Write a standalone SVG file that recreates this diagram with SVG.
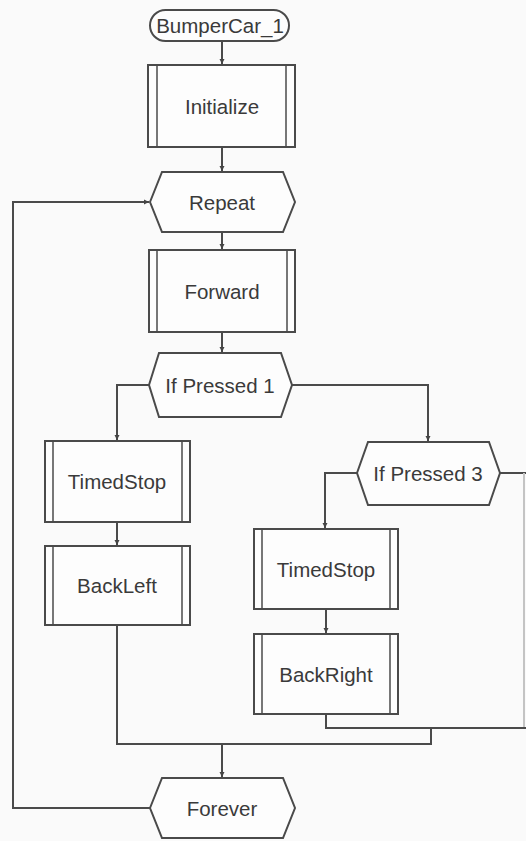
<svg xmlns="http://www.w3.org/2000/svg" width="526" height="841" viewBox="0 0 526 841">
  <defs>
    <marker id="arr" markerWidth="6" markerHeight="6" refX="5" refY="3" orient="auto" markerUnits="userSpaceOnUse">
      <path d="M0,0.5 L5,3 L0,5.5 Z" fill="#444"/>
    </marker>
    <style>
      .shape { fill: #fdfdfd; stroke: #4a4a4a; stroke-width: 2; }
      .inner { stroke: #4a4a4a; stroke-width: 1.5; }
      .wire { fill: none; stroke: #4a4a4a; stroke-width: 2; }
      .faint { fill: none; stroke: #c4c4c4; stroke-width: 2; }
      .lbl { font-family: "Liberation Sans", Arial, sans-serif; font-size: 20.5px; fill: #3a3a3a; text-anchor: middle; }
    </style>
  </defs>
  <rect width="526" height="841" fill="#fafafa"/>

  <g id="connectors">
    <path class="wire" d="M222,42 V64" marker-end="url(#arr)"/>
    <path class="wire" d="M222,147 V171" marker-end="url(#arr)"/>
    <path class="wire" d="M222,232 V249" marker-end="url(#arr)"/>
    <path class="wire" d="M222,332 V352" marker-end="url(#arr)"/>
    <path class="wire" d="M149,385 H117 V440" marker-end="url(#arr)"/>
    <path class="wire" d="M292,385 H428 V441" marker-end="url(#arr)"/>
    <path class="wire" d="M117,521 V545" marker-end="url(#arr)"/>
    <path class="wire" d="M357,473 H325 V528" marker-end="url(#arr)"/>
    <path class="wire" d="M326,609 V633" marker-end="url(#arr)"/>
    <path class="wire" d="M500,473 H526"/>
    <path class="faint" d="M524,473 V728"/>
    <path class="wire" d="M326,714 V728 H526"/>
    <path class="wire" d="M431,728 V744 H117 V625"/>
    <path class="wire" d="M222,744 V777" marker-end="url(#arr)"/>
    <path class="wire" d="M150,808 H13 V202 H149" marker-end="url(#arr)"/>
  </g>

  <g id="start">
    <rect class="shape" x="150" y="10" width="139" height="31" rx="15.5"/>
    <text class="lbl" x="220" y="33">BumperCar_1</text>
  </g>

  <g id="initialize">
    <rect class="shape" x="148" y="65" width="147" height="82"/>
    <line class="inner" x1="157" y1="65" x2="157" y2="147"/>
    <line class="inner" x1="286" y1="65" x2="286" y2="147"/>
    <text class="lbl" x="222" y="114">Initialize</text>
  </g>

  <g id="repeat">
    <polygon class="shape" points="150,202 162,172 283,172 295,202 283,232 162,232"/>
    <text class="lbl" x="222" y="210">Repeat</text>
  </g>

  <g id="forward">
    <rect class="shape" x="149" y="250" width="146" height="82"/>
    <line class="inner" x1="157" y1="250" x2="157" y2="332"/>
    <line class="inner" x1="287" y1="250" x2="287" y2="332"/>
    <text class="lbl" x="222" y="299">Forward</text>
  </g>

  <g id="if-pressed-1">
    <polygon class="shape" points="149,385 159,353 281,353 292,385 281,417 159,417"/>
    <text class="lbl" x="220" y="393">If Pressed 1</text>
  </g>

  <g id="timedstop-left">
    <rect class="shape" x="45" y="441" width="145" height="81"/>
    <line class="inner" x1="53" y1="441" x2="53" y2="522"/>
    <line class="inner" x1="182" y1="441" x2="182" y2="522"/>
    <text class="lbl" x="117" y="489">TimedStop</text>
  </g>

  <g id="backleft">
    <rect class="shape" x="45" y="546" width="145" height="79"/>
    <line class="inner" x1="53" y1="546" x2="53" y2="625"/>
    <line class="inner" x1="182" y1="546" x2="182" y2="625"/>
    <text class="lbl" x="117" y="593">BackLeft</text>
  </g>

  <g id="if-pressed-3">
    <polygon class="shape" points="357,473 368,442 489,442 500,473 489,505 368,505"/>
    <text class="lbl" x="428" y="481">If Pressed 3</text>
  </g>

  <g id="timedstop-right">
    <rect class="shape" x="254" y="529" width="144" height="80"/>
    <line class="inner" x1="262" y1="529" x2="262" y2="609"/>
    <line class="inner" x1="390" y1="529" x2="390" y2="609"/>
    <text class="lbl" x="326" y="577">TimedStop</text>
  </g>

  <g id="backright">
    <rect class="shape" x="254" y="634" width="144" height="80"/>
    <line class="inner" x1="262" y1="634" x2="262" y2="714"/>
    <line class="inner" x1="390" y1="634" x2="390" y2="714"/>
    <text class="lbl" x="326" y="682">BackRight</text>
  </g>

  <g id="forever">
    <polygon class="shape" points="150,808 162,778 283,778 295,808 283,838 162,838"/>
    <text class="lbl" x="222" y="816">Forever</text>
  </g>
</svg>
